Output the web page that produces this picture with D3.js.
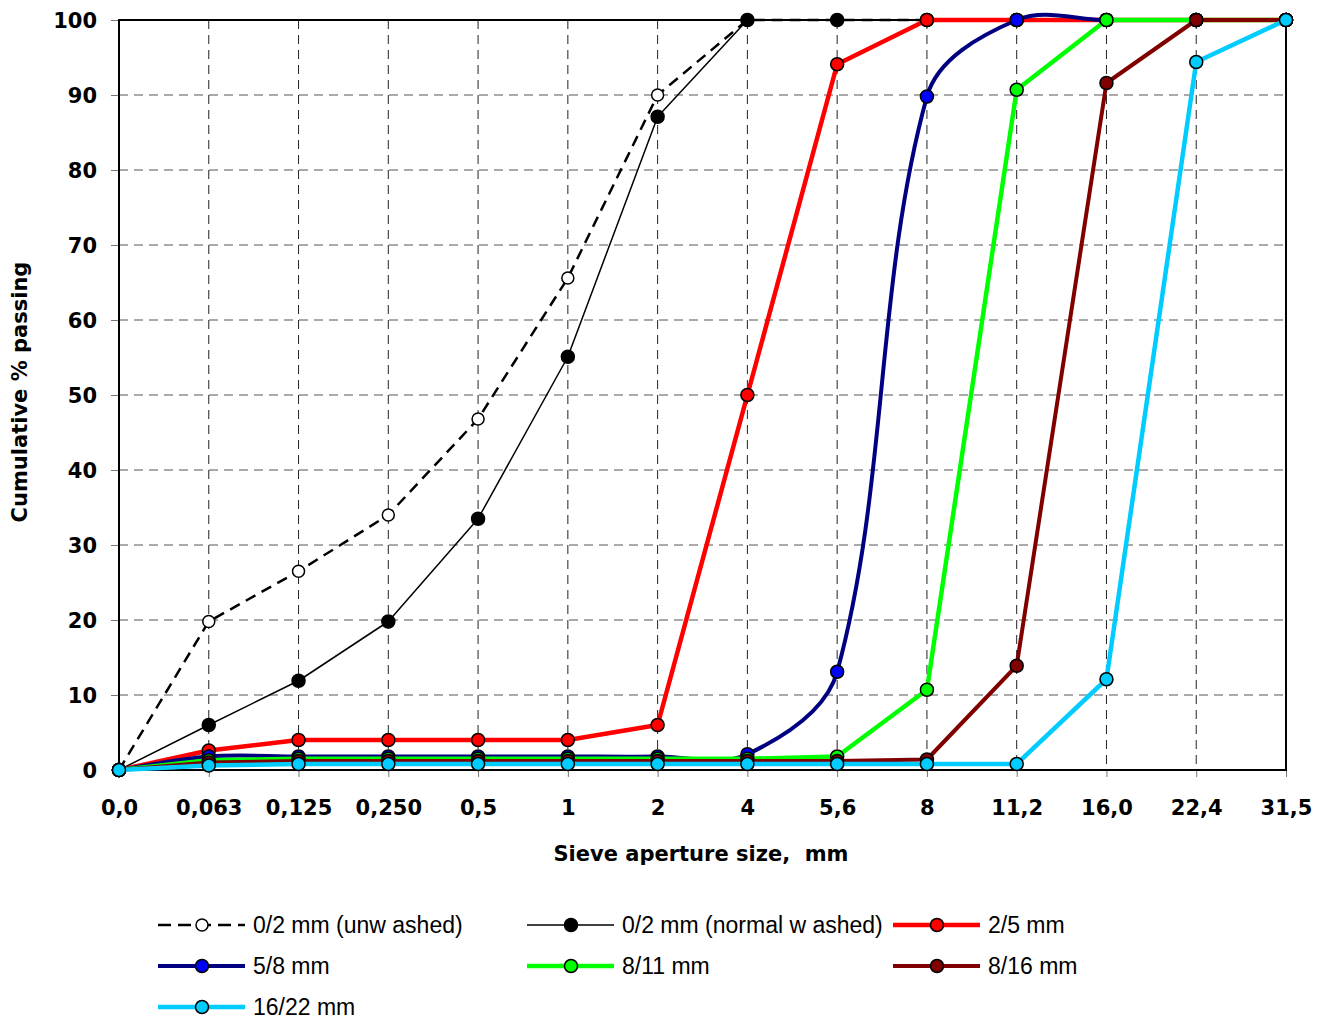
<!DOCTYPE html>
<html lang="en">
<head>
  <meta charset="UTF-8">
  <title>Sieve analysis</title>
  <script src="https://cdn.jsdelivr.net/npm/d3@7"></script>
  <style>
    body { margin: 0; background: #fff; }
    .lbl { font-family: "DejaVu Sans", Arial, sans-serif; font-weight: bold; font-size: 21px; fill: #000; }
    .leg { font-family: "Liberation Sans", Arial, sans-serif; font-size: 23px; fill: #000; }
  </style>
</head>
<body>
<div id="grafica"></div>

<script>
// sieve sizes (equally spaced categories on the x axis)
var sieves = ['0,0', '0,063', '0,125', '0,250', '0,5', '1', '2', '4', '5,6', '8', '11,2', '16,0', '22,4', '31,5']
var yTicks = [0, 10, 20, 30, 40, 50, 60, 70, 80, 90, 100]

// cumulative % passing for each product
var unwashed = [0, 19.8, 26.5, 34, 46.8, 65.6, 90, 100, 100, 100, 100, 100, 100, 100]
var washed   = [0, 6, 11.9, 19.8, 33.5, 55.1, 87.1, 100, 100, 100, 100, 100, 100, 100]
var p2_5     = [0, 2.6, 4, 4, 4, 4, 6, 50, 94.1, 100, 100, 100, 100, 100]
var p5_8     = [0, 1.8, 1.8, 1.8, 1.8, 1.8, 1.8, 2.1, 13.1, 89.8, 100, 100, 100, 100]
var p8_11    = [0, 1.3, 1.5, 1.5, 1.5, 1.5, 1.5, 1.5, 1.8, 10.7, 90.7, 100, 100, 100]
var p8_16    = [0, 1.0, 1.2, 1.2, 1.2, 1.2, 1.2, 1.2, 1.2, 1.4, 13.9, 91.6, 100, 100]
var p16_22   = [0, 0.6, 0.8, 0.8, 0.8, 0.8, 0.8, 0.8, 0.8, 0.8, 0.8, 12.1, 94.4, 100]

var series = [
  { name: '0/2 mm (unw ashed)', values: unwashed, stroke: '#000', width: 2.5, dash: '11,7', fill: '#fff', r: 6 },
  { name: '0/2 mm (normal w ashed)', values: washed, stroke: '#000', width: 1.5, fill: '#000', r: 6.5 },
  { name: '2/5 mm', values: p2_5, stroke: '#ff0000', width: 4.5, fill: '#ff0000', r: 6.5 },
  { name: '5/8 mm', values: p5_8, stroke: '#000080', width: 4, fill: '#0000ff', r: 6.5, smooth: true },
  { name: '8/11 mm', values: p8_11, stroke: '#00ff00', width: 4.5, fill: '#00ff00', r: 6.5 },
  { name: '8/16 mm', values: p8_16, stroke: '#800000', width: 4, fill: '#800000', r: 6.5 },
  { name: '16/22 mm', values: p16_22, stroke: '#00ccff', width: 4.5, fill: '#00ccff', r: 6.5 }
]

var ancho = 1333, alto = 1021
var pl = 119, pr = 1286, pt = 20, pb = 770

var svg = d3.select('#grafica')
            .append('svg')
            .attr('width', ancho)
            .attr('height', alto)

var x = d3.scalePoint()
          .domain(sieves)
          .range([pl, pr])
var y = d3.scaleLinear()
          .domain([0, 100])
          .range([pb, pt])

// spreadsheet-like smoothing: bezier whose handles follow the neighbour
// direction, with a length of a third of the segment
function smoothPath(p) {
  var path = d3.path()
  function dir(a, b) {
    var dx = b[0] - a[0], dy = b[1] - a[1], n = Math.hypot(dx, dy) || 1
    return [dx / n, dy / n]
  }
  path.moveTo(p[0][0], p[0][1])
  for (var i = 0; i < p.length - 1; i++) {
    var a = p[i], b = p[i + 1]
    var len = Math.hypot(b[0] - a[0], b[1] - a[1]) / 3
    var t0 = dir(p[Math.max(i - 1, 0)], b)
    var t1 = dir(a, p[Math.min(i + 2, p.length - 1)])
    path.bezierCurveTo(a[0] + t0[0] * len, a[1] + t0[1] * len,
                       b[0] - t1[0] * len, b[1] - t1[1] * len,
                       b[0], b[1])
  }
  return path.toString()
}

// grid
svg.append('g')
   .selectAll('line')
   .data(yTicks.slice(1, -1))
   .enter().append('line')
   .attr('x1', pl).attr('x2', pr)
   .attr('y1', d => y(d)).attr('y2', d => y(d))
   .attr('stroke', '#555').attr('stroke-dasharray', '9,6')

svg.append('g')
   .selectAll('line')
   .data(sieves.slice(1, -1))
   .enter().append('line')
   .attr('x1', d => x(d)).attr('x2', d => x(d))
   .attr('y1', pt).attr('y2', pb)
   .attr('stroke', '#222').attr('stroke-dasharray', '9,6')

// axes
var yAxis = d3.axisLeft(y).tickValues(yTicks).tickSize(8).tickPadding(14)
var gy = svg.append('g').attr('transform', 'translate(' + pl + ',0)').call(yAxis)
gy.select('.domain').remove()
gy.selectAll('line').attr('stroke', '#777')
gy.selectAll('text').attr('class', 'lbl').attr('dy', '0.36em')

var xAxis = d3.axisBottom(x).tickSize(7).tickPadding(23)
var gx = svg.append('g').attr('transform', 'translate(0,' + pb + ')').call(xAxis)
gx.select('.domain').remove()
gx.selectAll('line').attr('stroke', '#777')
gx.selectAll('text').attr('class', 'lbl').attr('dy', '0.71em')

// frame
svg.append('rect')
   .attr('x', pl).attr('y', pt)
   .attr('width', pr - pl).attr('height', pb - pt)
   .attr('fill', 'none').attr('stroke', '#000').attr('stroke-width', 2)

svg.append('text').attr('class', 'lbl')
   .attr('x', 701).attr('y', 861)
   .attr('text-anchor', 'middle')
   .style('white-space', 'pre')
   .text('Sieve aperture size,  mm')

svg.append('text').attr('class', 'lbl')
   .attr('transform', 'translate(27,392) rotate(-90)')
   .attr('text-anchor', 'middle')
   .text('Cumulative % passing')

// series
series.forEach(function(s) {
  var pts = s.values.map((v, i) => [sieves[i], v])
  var xy = pts.map(d => [x(d[0]), y(d[1])])
  var g = svg.append('g')
  g.append('path')
   .attr('d', s.smooth ? smoothPath(xy) : d3.line()(xy))
   .attr('fill', 'none')
   .attr('stroke', s.stroke)
   .attr('stroke-width', s.width)
   .attr('stroke-dasharray', s.dash || null)
   .attr('stroke-linejoin', 'round')
  g.selectAll('circle')
   .data(pts)
   .enter().append('circle')
   .attr('cx', d => x(d[0]))
   .attr('cy', d => y(d[1]))
   .attr('r', s.r)
   .attr('fill', s.fill)
   .attr('stroke', '#000')
   .attr('stroke-width', 1.5)
})

// legend
var legX = [158, 527, 893]
var legY = [925, 966, 1007]
series.forEach(function(s, i) {
  var lx = legX[i % 3]
  var ly = legY[Math.floor(i / 3)]
  var g = svg.append('g').attr('transform', 'translate(' + lx + ',' + ly + ')')
  g.append('line')
   .attr('x1', 0).attr('x2', 87)
   .attr('stroke', s.stroke)
   .attr('stroke-width', s.width)
   .attr('stroke-dasharray', s.dash ? '13,7' : null)
  g.append('circle')
   .attr('cx', 44).attr('r', s.r)
   .attr('fill', s.fill).attr('stroke', '#000').attr('stroke-width', 1.5)
  g.append('text').attr('class', 'leg')
   .attr('x', 95).attr('dy', '0.36em')
   .text(s.name)
})
</script>
</body>
</html>
